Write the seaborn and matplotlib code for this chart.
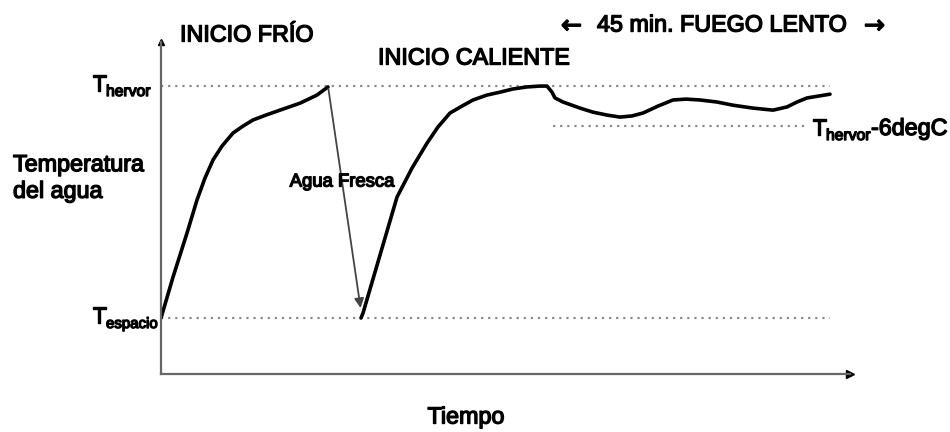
import matplotlib
matplotlib.use('Agg')
import matplotlib.pyplot as plt
import matplotlib.patheffects as pe
import seaborn as sns

# Data (time in arbitrary units, temperature in degrees)
t_frio = [0, 1.2, 2.6, 3.6, 4.4, 5.2, 6.1, 7.2, 8.2, 9.2, 10.5, 11.9, 13.9, 15.6, 16.7]
temp_frio = [20, 34.1, 49.3, 60.7, 68.3, 74.5, 79.3, 83.8, 86.2, 88.3, 90.0, 91.7, 94.1, 96.9, 99.7]

t_caliente = [20.0, 20.2, 21.9, 23.6, 25.1, 26.6, 27.7, 28.9, 30.1, 31.2, 32.6, 33.9,
              35.2, 36.6, 37.9, 38.6, 39.1, 39.4, 40.2, 41.9, 43.2, 44.6, 45.9, 47.1,
              48.2, 49.7, 51.2, 52.5, 53.9, 55.6, 57.2, 59.2, 61.2, 62.6, 63.6, 64.6, 66.9]
temp_caliente = [20, 21.7, 41.7, 61.7, 71.7, 80.3, 85.9, 90.7, 93.1, 95.2, 96.9, 97.9,
                 99.0, 99.7, 100, 100, 97.9, 95.9, 94.5, 92.4, 91.0, 90.0, 89.3, 89.7,
                 90.7, 93.1, 95.2, 95.5, 95.2, 94.5, 93.4, 92.4, 91.7, 92.8, 94.5, 95.9, 97.2]

agua_fresca_start = (16.7, 100)
agua_fresca_end = (20.0, 22.5)

t_hervor = 100
t_espacio = 20
t_fuego_lento = 86.2
lento_start, lento_end = 39.2, 64.6
ref_end = 66.9

sns.set_style('white')
plt.rcParams['font.family'] = ['Liberation Sans', 'DejaVu Sans']

W, H = 950, 432
fig = plt.figure(figsize=(9.5, 4.32), dpi=100)
ax = fig.add_axes([161 / W, 1 - 374 / H, (850 - 161) / W, (374 - 42) / H])
ax.set_xlim(0, 68.9)
ax.set_ylim(0.69, 115.2)

dot = dict(color='#8a8a8a', lw=1.6, ls=(0, (1, 2.2)))
ax.plot([0, ref_end], [t_hervor, t_hervor], **dot)
ax.plot([0, ref_end], [t_espacio, t_espacio], **dot)
ax.plot([lento_start, lento_end], [t_fuego_lento, t_fuego_lento], **dot)

sns.lineplot(x=t_frio, y=temp_frio, sort=False, estimator=None, color='black', lw=2.6,
             solid_joinstyle='round', ax=ax)
sns.lineplot(x=t_caliente, y=temp_caliente, sort=False, estimator=None, color='black', lw=2.6,
             solid_joinstyle='round', ax=ax)

ax.annotate('', xy=agua_fresca_end, xytext=agua_fresca_start,
            arrowprops=dict(arrowstyle='-|>', color='#444', lw=1.3, mutation_scale=14))

# axes look
ax.set_xticks([])
ax.set_yticks([])
for s in ['top', 'right']:
    ax.spines[s].set_visible(False)
for s in ['left', 'bottom']:
    ax.spines[s].set_color('#666')
    ax.spines[s].set_linewidth(1.6)
ax.plot(1, 0, '>', color='black', ms=6, transform=ax.transAxes, clip_on=False)
ax.plot(0, 1, '^', color='black', ms=5, transform=ax.transAxes, clip_on=False)


def fx(px, py):
    return px / W, 1 - py / H


thick = [pe.withStroke(linewidth=1.0, foreground='black')]
txt = dict(color='black', path_effects=thick)
fs = 16.8

fig.text(*fx(180, 35), 'INICIO FRÍO', fontsize=fs, va='center', ha='left', **txt)
fig.text(*fx(378, 58), 'INICIO CALIENTE', fontsize=fs, va='center', ha='left', **txt)
fig.text(*fx(561, 26), '←', fontsize=18, va='center', ha='left', family='DejaVu Sans', **txt)
fig.text(*fx(597, 25), '45 min. FUEGO LENTO', fontsize=fs, va='center', ha='left', **txt)
fig.text(*fx(864, 26), '→', fontsize=18, va='center', ha='left', family='DejaVu Sans', **txt)
fig.text(*fx(13, 178), 'Temperatura\ndel agua', fontsize=fs, va='center', ha='left',
         linespacing=1.2, **txt)
fig.text(*fx(466, 417), 'Tiempo', fontsize=fs, va='center', ha='center', **txt)
fig.text(*fx(342, 182), 'Agua Fresca', fontsize=13.3, va='center', ha='center', **txt)

# T labels with small subscripts
fig.text(*fx(92, 91), 'T', fontsize=fs, va='baseline', ha='left', **txt)
fig.text(*fx(106, 96), 'hervor', fontsize=11.3, va='baseline', ha='left', **txt)
fig.text(*fx(92, 323), 'T', fontsize=fs, va='baseline', ha='left', **txt)
fig.text(*fx(106, 328), 'espacio', fontsize=10.8, va='baseline', ha='left', **txt)
fig.text(*fx(812, 135), 'T', fontsize=fs, va='baseline', ha='left', **txt)
fig.text(*fx(826, 140), 'hervor', fontsize=11.3, va='baseline', ha='left', **txt)
fig.text(*fx(871, 135), '-6degC', fontsize=fs, va='baseline', ha='left', **txt)

fig.savefig('out.png', dpi=100)
